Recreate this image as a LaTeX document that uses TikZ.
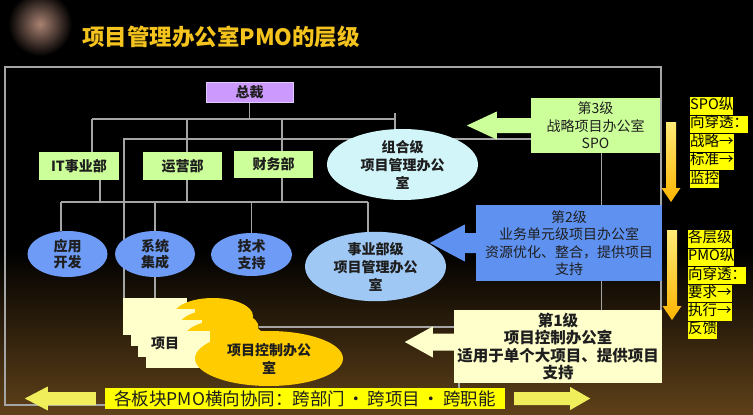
\documentclass[tikz,border=0pt]{standalone}
\usepackage{fontspec}
\setmainfont{Noto Sans CJK SC}
\usetikzlibrary{shapes.geometric}
\usetikzlibrary{calc}

\definecolor{titlegold}{RGB}{245,195,30}
\definecolor{zcpurple}{RGB}{204,153,255}
\definecolor{zcedge}{RGB}{225,200,255}
\definecolor{deptgreen}{RGB}{204,255,153}
\definecolor{combocyan}{RGB}{210,245,250}
\definecolor{unitblue}{RGB}{110,155,245}
\definecolor{bulight}{RGB}{160,200,245}
\definecolor{lvlblue}{RGB}{95,145,240}
\definecolor{cream}{RGB}{255,255,204}
\definecolor{kzgold}{RGB}{255,204,0}
\definecolor{hlyellow}{RGB}{255,255,0}
\definecolor{sidearrow}{RGB}{240,238,90}
\definecolor{inkdark}{RGB}{30,30,30}
\definecolor{wiregray}{RGB}{165,165,165}

\pgfdeclarelayer{bg}
\pgfdeclarelayer{wires}
\pgfsetlayers{bg,wires,main}

\setlength{\fboxsep}{0pt}
\newcommand\hlline[1]{\colorbox{hlyellow}{\strut #1}}

\begin{document}
\begin{tikzpicture}[x=1pt,y=-1pt]
\tikzset{wire/.style = {draw=wiregray, line width=1.1pt}}
\tikzset{dept/.style = {rectangle, fill=deptgreen, inner sep=0pt, minimum width=80pt, minimum height=28pt, text=inkdark, font=\bfseries\fontsize{14}{17}\selectfont}}
\tikzset{unit/.style = {ellipse, fill=unitblue, inner sep=0pt, minimum width=80pt, minimum height=46pt, align=center, text=inkdark, font=\bfseries\fontsize{14}{16.5}\selectfont}}
\tikzset{office/.style = {ellipse, inner sep=0pt, align=center, text=inkdark, font=\bfseries\fontsize{14}{18}\selectfont}}
\tikzset{level/.style = {rectangle, inner sep=0pt, align=center, text=inkdark, font=\fontsize{14}{17.5}\selectfont}}
\tikzset{xmcard/.style = {rectangle, fill=cream, inner sep=0pt, minimum width=64pt, minimum height=37pt}}
\tikzset{kzlayer/.style = {ellipse, fill=kzgold, inner sep=0pt, minimum width=80pt, minimum height=36pt}}
\tikzset{note/.style = {anchor=north west, inner sep=0pt, align=left, text=black, font=\fontsize{14.5}{17.4}\selectfont}}

\useasboundingbox (0,0) rectangle (753,415);
\begin{pgfonlayer}{bg}
\fill[black] (0,0) rectangle (753,415);
\shade[top color=black, bottom color={rgb,255:red,95;green,65;blue,25}] (0,250) rectangle (753,415);
\shade[inner color={rgb,255:red,170;green,130;blue,115}, outer color=black] (40,24) circle (32);
\end{pgfonlayer}

% title
\node[font=\bfseries\fontsize{22.5}{26}\selectfont, text=titlegold] (ttl) at (221,37) {项目管理办公室PMO的层级};

% org chart
\node[rectangle, fill=zcpurple, draw=zcedge, line width=0.8pt, minimum width=87pt, minimum height=20pt, inner sep=0pt, text=inkdark, font=\bfseries\fontsize{14}{16}\selectfont] (zc) at (249.5,92) {总裁};
\node[dept] (it) at (79,166) {IT事业部};
\node[dept, minimum width=79pt] (yy) at (182.5,166) {运营部};
\node[dept, minimum width=79pt, minimum height=27pt] (cw) at (273.5,164.5) {财务部};
\node[office, fill=combocyan, minimum width=151pt, minimum height=71pt] (zh) at (402.5,164.5) {组合级\\项目管理办公\\室};
\node[unit] (yk) at (67.5,254) {应用\\开发};
\node[unit] (xt) at (155,254) {系统\\集成};
\node[unit, minimum width=81pt, minimum height=43pt] (js) at (251.5,254.5) {技术\\支持};
\node[office, fill=bulight, minimum width=141pt, minimum height=67pt] (sy) at (375.5,266.5) {事业部级\\项目管理办公\\室};

% project cards and control office
\foreach \i in {0,1,2} {
  \node[xmcard] (xm\i) at ({155+7.7*\i}, {316.5+11*\i}) {};
  \node[kzlayer] (g\i) at ({213+5.5*\i}, {316+11*\i}) {};
}
\node[xmcard] (xm3) at (178.1,349.5) {};
\node[text=inkdark, font=\bfseries\fontsize{14}{16}\selectfont] (xmlbl) at (165,343) {项目};
\node[office, fill=kzgold, minimum width=148pt, minimum height=55pt] (kz) at (269,358.5) {项目控制办公\\室};

% levels
\node[level, fill=deptgreen, minimum width=129pt, minimum height=55pt] (spo) at (595.5,125.5) {第3级\\战略项目办公室\\SPO};
\node[level, fill=lvlblue, minimum width=186pt, minimum height=76pt] (bu) at (569,243) {第2级\\业务单元级项目办公室\\资源优化、整合，提供项目\\支持};
\node[level, fill=cream, minimum width=208pt, minimum height=73pt, font=\bfseries\fontsize{15.5}{17.5}\selectfont] (pc) at (558,346.5) {第1级\\项目控制办公室\\适用于单个大项目、提供项目\\支持};

\fill[deptgreen] (spo.west) ++(0,-7.5) -- ++(-34,0) -- ++(0,-6.5) -- ++(-30,14) -- ++(30,14) -- ++(0,-6.5) -- ++(34,0) -- cycle;
\fill[lvlblue] (bu.west) ++(0,-10) -- ++(-11,0) -- ++(0,-8.5) -- ++(-35,18.5) -- ++(35,18.5) -- ++(0,-8.5) -- ++(11,0) -- cycle;
\fill[cream] (pc.west) ++(0,-13) -- ++(-21,0) -- ++(0,-7) -- ++(-28,15.5) -- ++(28,15.5) -- ++(0,-7) -- ++(21,0) -- cycle;

% bottom banner
\node[rectangle, fill=hlyellow, minimum width=400pt, minimum height=21pt, inner sep=0pt, text=inkdark, font=\fontsize{17.5}{20}\selectfont] (hx) at (305,398.5) {各板块PMO横向协同：跨部门\hspace{.15em}·\hspace{.15em}跨项目\hspace{.15em}·\hspace{.15em}跨职能};
\fill[sidearrow] (hx.west) ++(-9,-6.5) -- ++(-48,0) -- ++(0,-5.5) -- ++(-23,12) -- ++(23,12) -- ++(0,-5.5) -- ++(48,0) -- cycle;
\fill[sidearrow] (hx.east) ++(9,-6.5) -- ++(56,0) -- ++(0,-5) -- ++(20,11.5) -- ++(-20,11.5) -- ++(0,-5) -- ++(-56,0) -- cycle;

% side notes
\node[note] (spo-note) at (690,97) {\hlline{SPO纵}\\\hlline{向穿透：}\\\hlline{战略→}\\\hlline{标准→}\\\hlline{监控}};
\node[note, font=\fontsize{14.5}{17}\selectfont] (pmo-note) at (688,230) {\hlline{各层级}\\\hlline{PMO纵}\\\hlline{向穿透：}\\\hlline{要求→}\\\hlline{执行→}\\\hlline{反馈}};
\shade[top color={rgb,255:red,255;green,235;blue,120}, bottom color={rgb,255:red,255;green,180;blue,0}] (666,122) -- (676,122) -- (676,188) -- (680.5,188) -- (671,202) -- (661.5,188) -- (666,188) -- cycle;
\shade[top color={rgb,255:red,255;green,235;blue,120}, bottom color={rgb,255:red,255;green,180;blue,0}] (667,230) -- (677,230) -- (677,306) -- (681.5,306) -- (672,320) -- (662.5,306) -- (667,306) -- cycle;

% connectors
\coordinate (tbus) at (92,119);
\coordinate (tbus-end) at (395,119);
\coordinate (sbus) at (124,139);
\coordinate (dbus) at (61,202);
\coordinate (dbus-end) at (368,202);
\begin{pgfonlayer}{wires}
\draw[wire] (661,310) -- (661,67) -- (5,67) -- (5,405) -- (459,405) -- (459,383);
\draw[wire] (zc.south) -- (zc.south |- tbus);
\draw[wire] (tbus) -- (tbus-end);
\draw[wire] ([yshift=6pt]tbus-end) -- (tbus-end |- zh.north);
\draw[wire] (tbus) -- (tbus |- it.north);
\draw[wire] ([xshift=4.5pt]yy.north) -- ([xshift=4.5pt]yy.north |- tbus);
\draw[wire] ([xshift=8.5pt]cw.north) -- ([xshift=8.5pt]cw.north |- tbus);
\draw[wire] (sbus -| spo.west) -- (sbus) -- (sbus |- xm0.north);
\draw[wire] ([xshift=21pt]it.south) -- ([xshift=21pt]it.south |- dbus);
\draw[wire] ([xshift=4.5pt]yy.south) -- ([xshift=4.5pt]yy.south |- dbus);
\draw[wire] ([xshift=8.5pt]cw.south) -- ([xshift=8.5pt]cw.south |- dbus);
\draw[wire] (dbus) -- (dbus-end);
\draw[wire] (dbus) -- (dbus |- yk.north);
\draw[wire] (xt.north |- dbus) -- (xt.north);
\draw[wire] (js.north |- dbus) -- (js.north);
\draw[wire] (dbus-end) -- (dbus-end |- sy.north);
\draw[wire] (xt.south) -- (xt.south |- xm0.north);
\draw[wire] ([xshift=6pt]spo.south) -- ([xshift=6pt]spo.south |- bu.north);
\draw[wire] ([xshift=6pt]spo.south |- bu.south) -- ([xshift=6pt]spo.south |- pc.north);
\draw[wire] (g1.east) -- (g1.east -| pc.west);
\end{pgfonlayer}
\end{tikzpicture}
\end{document}
